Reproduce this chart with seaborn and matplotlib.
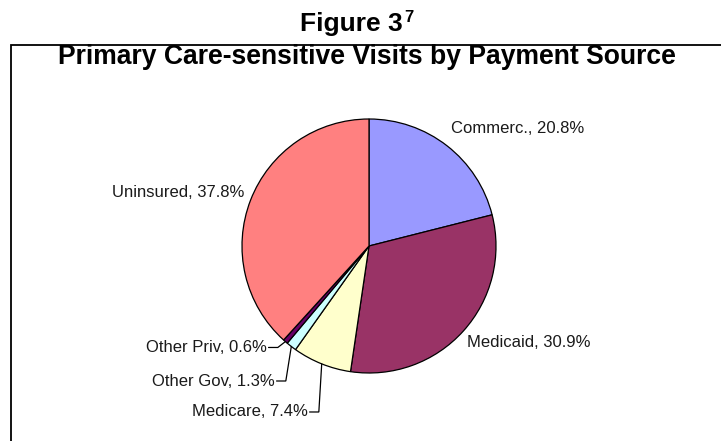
import numpy as np
import matplotlib
matplotlib.use("Agg")
import matplotlib.pyplot as plt
from matplotlib.patches import Rectangle
import seaborn as sns

# Payment source shares of primary care-sensitive visits (percent)
categories = ["Commerc.", "Medicaid", "Medicare", "Other Gov", "Other Priv", "Uninsured"]
shares = [20.8, 30.9, 7.4, 1.3, 0.6, 37.8]
slice_colors = ["#9999FF", "#993366", "#FFFFCC", "#CCFFFF", "#660066", "#FF8080"]

# Label anchors (pie radius = 1), horizontal alignment, and whether a leader line is drawn
label_anchor = [(0.646, 0.929), (0.772, -0.756), (-0.480, -1.307),
                (-0.740, -1.063), (-0.803, -0.799), (-0.984, 0.425)]
label_align = ["left", "left", "right", "right", "right", "right"]
leader = [False, False, True, True, True, False]

sns.set_theme(style="white")
plt.rcParams["font.family"] = ["Liberation Sans", "DejaVu Sans"]

W, H, DPI = 721, 441, 100
R_PX = 127.0           # pie radius in pixels
CX, CY = 369.0, 246.0  # pie centre in pixels (y measured from top)

fig = plt.figure(figsize=(W / DPI, H / DPI), dpi=DPI)
fig.patch.set_facecolor("white")
ax = fig.add_axes([0, 0, 1, 1])

palette = sns.color_palette(slice_colors)
wedges, _ = ax.pie(shares, colors=palette, startangle=90, counterclock=False,
                   radius=1.0, center=(0, 0),
                   wedgeprops=dict(edgecolor="black", linewidth=0.9))

ax.set_aspect("auto")
ax.set_xlim(-CX / R_PX, (W - CX) / R_PX)
ax.set_ylim(-(H - CY) / R_PX, CY / R_PX)
ax.axis("off")

for wedge, name, val, (lx, ly), ha, has_line in zip(
        wedges, categories, shares, label_anchor, label_align, leader):
    text = f"{name}, {val:.1f}%"
    ax.text(lx, ly, text, ha=ha, va="center", fontsize=12, color="#1a1a1a")
    if has_line:
        mid = np.deg2rad((wedge.theta1 + wedge.theta2) / 2)
        px, py = np.cos(mid), np.sin(mid)
        x0 = lx + 0.012
        x1 = lx + 0.085
        ax.plot([x0, x1, px], [ly, ly, py], color="black", lw=0.9,
                solid_joinstyle="miter")

# Chart frame (right and bottom edges run off the figure)
fig.patches.append(Rectangle((11 / W, -0.1), 1.2, 1.1 - 44.5 / H,
                             transform=fig.transFigure, fill=False,
                             edgecolor="black", linewidth=1.3))

# Headings
fig_title = fig.text(351 / W, 1 - 24 / H, "Figure 3", ha="center", va="center",
                     fontsize=19, fontweight="bold", color="black")
ax.annotate("7", xy=(1.0, 1.0), xycoords=fig_title, xytext=(1.5, 1.5),
            textcoords="offset points", ha="left", va="top",
            fontsize=12, fontweight="bold", color="black",
            annotation_clip=False)
fig.text(367 / W, 1 - 57 / H, "Primary Care-sensitive Visits by Payment Source",
         ha="center", va="center", fontsize=19.1, fontweight="bold", color="black")

fig.savefig("out.png", dpi=DPI, facecolor="white")
